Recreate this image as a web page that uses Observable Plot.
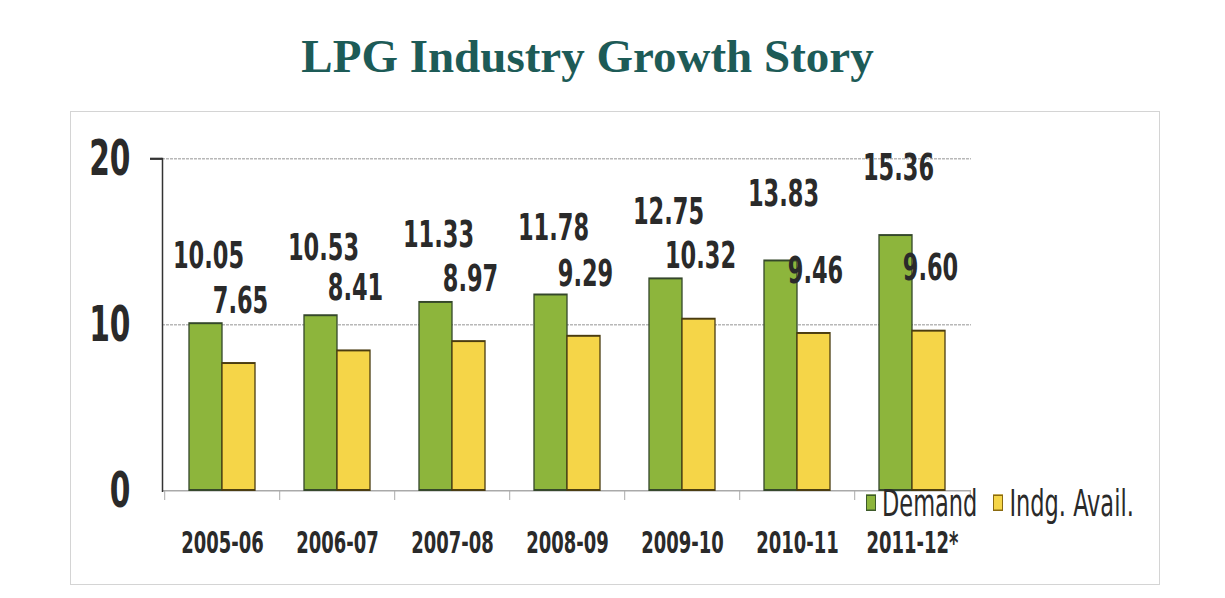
<!DOCTYPE html>
<html><head><meta charset="utf-8">
<script src="https://cdn.jsdelivr.net/npm/d3@7"></script>
<script src="https://cdn.jsdelivr.net/npm/@observablehq/plot@0.6"></script>
<style>
body{margin:0;background:#fff;width:1225px;height:598px;position:relative;overflow:hidden;font-family:"DejaVu Sans Condensed","DejaVu Sans",sans-serif}
#title{position:absolute;left:0;top:33px;width:1175px;text-align:center;font-family:"Liberation Serif",serif;font-weight:bold;font-size:47px;color:#1d5b57;line-height:1}
#box{position:absolute;left:70px;top:111px;width:1090px;height:474px;border:1px solid #d4d4d4;box-sizing:border-box}
#chart{position:absolute;left:0;top:100px;transform:scaleY(1.5);transform-origin:0 0}
#chart svg{display:block}
#legend{position:absolute;left:866px;top:484px;font-size:25px;line-height:1;color:#2a2a2a;display:flex;gap:16px;align-items:center;transform:scaleY(1.5);transform-origin:0 0}
#legend span.sw{display:inline-block;width:8px;height:9px;border:1.5px solid #444;margin-right:6px;vertical-align:middle;position:relative;top:-2px}
</style></head>
<body>
<div id="title">LPG Industry Growth Story</div>
<div id="box"></div>
<div id="chart"></div>
<div id="legend">
  <div><span class="sw" style="background:#8db53c;border-color:#3d5a2a"></span>Demand</div>
  <div><span class="sw" style="background:#f5d548;border-color:#8a6a10"></span>Indg. Avail.</div>
</div>
<script>
const years = ["2005-06","2006-07","2007-08","2008-09","2009-10","2010-11","2011-12*"];
const demand = [10.05,10.53,11.33,11.78,12.75,13.83,15.36];
const indgAvail = [7.65,8.41,8.97,9.29,10.32,9.46,9.60];
const yTicks = [0,10,20];

const dRows = years.map((y,i)=>({year:y,value:demand[i]}));
const aRows = years.map((y,i)=>({year:y,value:indgAvail[i]}));

const txt = "#2a2a2a";
const font = '"DejaVu Sans Condensed","DejaVu Sans",sans-serif';
const plot = Plot.plot({
  width:1225, height:332,
  marginTop:38.7, marginBottom:72, marginLeft:162, marginRight:254,
  style:{fontFamily:font, color:txt, background:"transparent"},
  x:{domain:years, paddingInner:0.43, paddingOuter:0.215, axis:null, label:null},
  y:{domain:[0,20], axis:null, label:null},
  marks:[
    Plot.gridY([10,20], {stroke:"#b8b8b8", strokeOpacity:1, strokeDasharray:"3,1"}),
    Plot.ruleY([0], {stroke:"#aaaaaa"}),
    Plot.ruleX(years, {x:d=>d, y1:0, y2:-0.6, dx:-57.8, stroke:"#aaaaaa"}),
    Plot.ruleX([years[years.length-1]], {x:d=>d, y1:0, y2:-0.6, dx:57.8, stroke:"#aaaaaa"}),
    Plot.barY(dRows, {x:"year", y:"value", fill:"#8db53c", stroke:"#34472a", strokeWidth:1.3, insetRight:33}),
    Plot.barY(aRows, {x:"year", y:"value", fill:"#f5d548", stroke:"#4a3c10", strokeWidth:1.3, insetLeft:33}),
    Plot.text(dRows, {x:"year", y:"value", text:d=>d.value.toFixed(2), dx:-14, dy:-45, fontSize:25, fontWeight:"bold", fill:txt}),
    Plot.text(aRows, {x:"year", y:"value", text:d=>d.value.toFixed(2), dx:18, dy:-42, fontSize:25, fontWeight:"bold", fill:txt}),
    Plot.frame({anchor:"left", stroke:"#333", strokeWidth:1.5}),
    Plot.axisY({ticks:[20], tickSize:12, text:null, stroke:"#333", strokeWidth:1.5, label:null}),
    Plot.axisY({ticks:yTicks, tickSize:0, tickPadding:32, fontSize:33, fontWeight:"bold", fill:txt, label:null}),
    Plot.axisX({tickSize:0, tickPadding:27, fontSize:20, fontWeight:"bold", fill:txt, label:null})
  ]
});
document.getElementById("chart").appendChild(plot);
</script>
</body></html>
